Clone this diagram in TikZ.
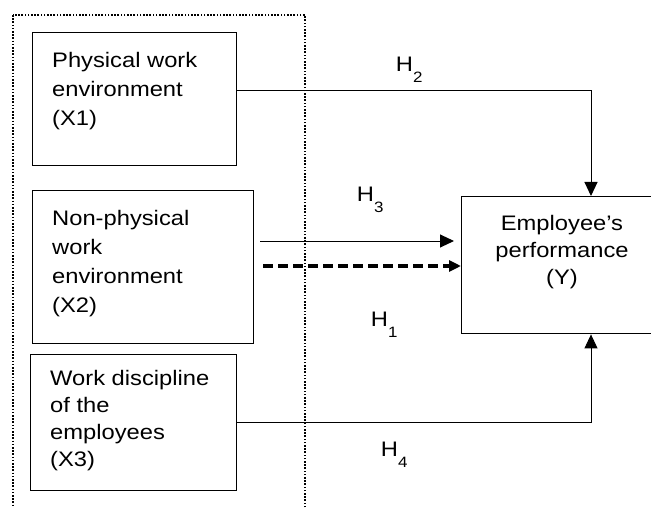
\documentclass[tikz,border=0pt]{standalone}
\usepackage{fontspec}
\newfontfamily\arialx[FakeStretch=1.13]{Liberation Sans}
\usetikzlibrary{arrows.meta}
\begin{document}
\begin{tikzpicture}[x=1pt,y=-1pt,
  box/.style={draw, line width=1.4pt, inner sep=0pt, anchor=north west},
  txt/.style={inner sep=0pt, align=left, anchor=north west,
    font=\arialx\fontsize{21}{29}\selectfont},
  hlab/.style={inner sep=0pt, anchor=base west, font=\arialx\fontsize{21}{25}\selectfont},
  arr/.style={line width=1pt, -{Triangle[length=14pt,width=13pt]}},
  darr/.style={line width=3.5pt, dash pattern=on 10pt off 5pt, -{Triangle[length=12pt,width=11pt]}},
  grp/.style={line width=1.8pt, dash pattern=on 1.6pt off 1.6pt}]
\useasboundingbox (0,0) rectangle (651,508);
% group outline
\draw[grp] (13,15) rectangle (305,520);
% boxes
\node[box, minimum width=204pt, minimum height=133pt] (b1) at (32,32) {};
\node[box, minimum width=221pt, minimum height=153pt] (b2) at (32,190) {};
\node[box, minimum width=206pt, minimum height=136pt] (b3) at (30,354) {};
\node[box, minimum width=200pt, minimum height=137pt] (Y) at (461,196) {};
% texts
\node[txt] (t1) at (52,52) {Physical work\\environment\\(X1)};
\node[txt] (t2) at (52,210) {Non-physical\\work\\environment\\(X2)};
\node[txt, font=\arialx\fontsize{21}{27}\selectfont] (t3) at (50,370) {Work discipline\\of the\\employees\\(X3)};
\node[txt, align=center, anchor=north, font=\arialx\fontsize{21}{27}\selectfont] (tY) at (562,215) {Employee’s\\performance\\(Y)};
% labels
\newcommand{\hsub}[1]{H\raisebox{-11pt}{\fontsize{15}{15}\selectfont #1}}
\node[hlab] (h2) at (395.7,71.7) {\hsub{2}};
\node[hlab] (h3) at (356.7,201.7) {\hsub{3}};
\node[hlab] (h1) at (370.7,326) {\hsub{1}};
\node[hlab] (h4) at (380.7,456) {\hsub{4}};
% connectors
\coordinate (c2) at (591,91);
\coordinate (c4) at (591,422);
\coordinate (h3s) at (260,241);
\coordinate (h3e) at (454,241);
\coordinate (d1) at (263,266);
\draw[arr] (b1.east |- c2) -| (Y.north -| c2);
\draw[arr] (b3.east |- c4) -| (Y.south -| c4);
\draw[arr] (h3s) -- (h3e);
\draw[darr] (d1) -- (Y.west |- d1);
\end{tikzpicture}
\end{document}
